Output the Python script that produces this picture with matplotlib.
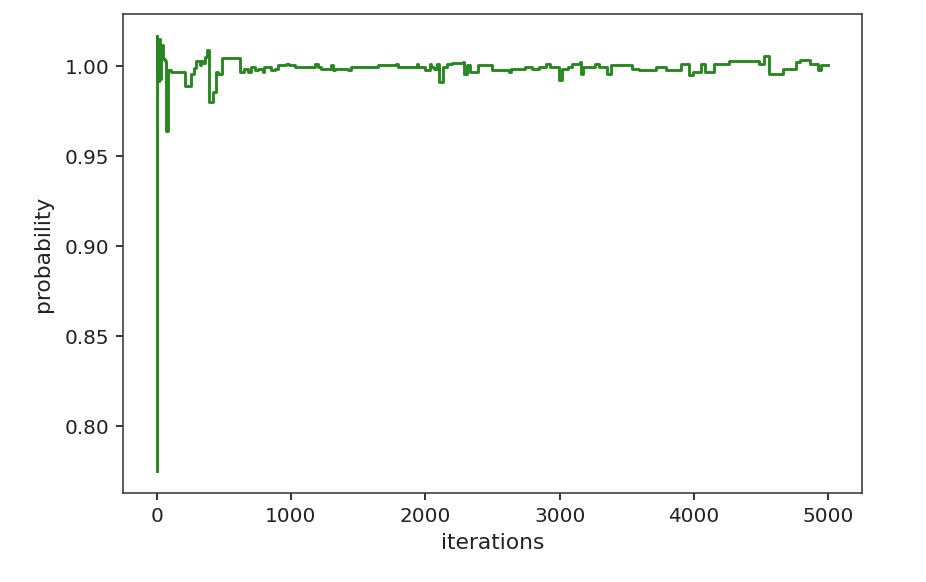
import matplotlib
matplotlib.use("Agg")
import matplotlib.pyplot as plt
import numpy as np

# running estimate (step changes)
iterations = [
    0, 2, 6, 10, 15, 20, 28, 35, 42, 50, 60, 68, 88, 108, 210, 258, 275,
    295, 320, 330, 345, 360, 375, 388, 418, 440, 455, 488,
    620, 650, 680, 700, 730, 755, 790, 800, 855, 880, 905, 960, 985, 1030,
    1180, 1200, 1225, 1300, 1315, 1330, 1425, 1450, 1650, 1780,
    1798, 1935, 1945, 1995, 2035, 2045, 2065, 2085, 2105, 2130, 2160, 2195,
    2280, 2290, 2310, 2335, 2395, 2495, 2620, 2640, 2745, 2795, 2845, 2900,
    2930, 2995, 3015, 3060, 3090, 3150, 3160, 3175, 3265, 3290, 3350, 3385,
    3540, 3590, 3715, 3790, 3900, 3960, 3990, 4050, 4085, 4150, 4260, 4485,
    4520, 4560, 4660, 4760, 4785, 4860, 4920, 4945, 5000,
]
probability = [
    0.775, 1.017, 0.995, 1.012, 0.992, 1.015, 0.993, 1.010, 1.012, 1.004,
    1.003, 0.964, 0.998, 0.997, 0.989, 0.996, 0.999,
    1.003, 1.001, 1.003, 1.002, 1.005, 1.009, 0.980, 0.986, 0.997, 0.9955, 1.0044,
    0.9969, 0.9987, 0.9969, 0.9996, 0.9978, 0.9987, 0.9969, 0.9996, 0.9978,
    0.9987, 1.0006, 1.0015, 1.0006, 0.9996,
    1.0015, 0.9996, 0.9987, 1.0006, 0.9978, 0.9987, 0.9978, 0.9996, 1.0006, 1.0015,
    0.9996, 1.0015, 0.9996, 0.9982, 1.0015, 0.9996, 0.9987, 1.0015, 0.9913,
    0.9996, 1.0015, 1.0018,
    1.0024, 0.9960, 1.0006, 0.9969, 1.0006, 0.9978, 0.9969, 0.9987, 0.9996,
    0.9987, 0.9996, 1.0015,
    0.9996, 0.9922, 0.9987, 0.9996, 1.0015, 1.0024, 0.9959, 0.9998, 1.0015,
    0.9996, 0.9959, 1.0006,
    0.9987, 0.9978, 0.9996, 0.9978, 1.0015, 0.9950, 0.9969, 1.0015, 0.9969,
    1.0015, 1.0028, 1.0015,
    1.0055, 0.9959, 0.9987, 1.0024, 1.0033, 1.0015, 0.9978, 1.0006, 1.0006,
]

fig = plt.figure(figsize=(926 / 139, 582 / 139), dpi=139)
ax = fig.add_axes([0.1328, 0.1529, 0.7981, 0.8230])

ax.plot(iterations, probability, color='#2a8622', drawstyle='steps-post')

# Formatting
ax.set_xlabel("iterations", fontsize=11.3, color='#222222')
ax.set_ylabel("probability", fontsize=11.3, color='#222222', labelpad=6)
ax.set_xticks(np.arange(0, 5001, 1000))
ax.set_yticks([0.80, 0.85, 0.90, 0.95, 1.00])
ax.tick_params(labelsize=10.4, labelcolor='#222222')
for s in ax.spines.values():
    s.set_color('#333333')

fig.savefig("out.png", dpi=139)
